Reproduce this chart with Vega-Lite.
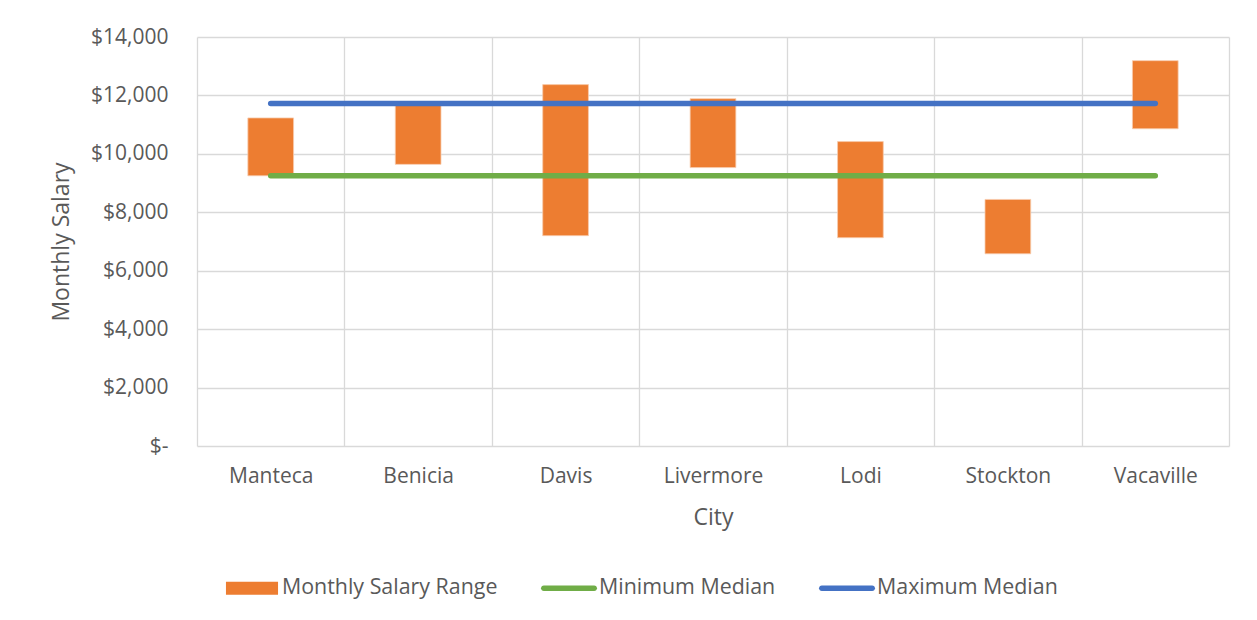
{
  "$schema": "https://vega.github.io/schema/vega-lite/v6.json",
  "width": 1032,
  "height": 409,
  "autosize": {"type": "none"},
  "padding": {"left": 197, "top": 37, "right": 28, "bottom": 174},
  "background": "white",
  "config": {
    "view": {"stroke": null},
    "font": "Open Sans",
    "axis": {
      "labelFont": "Open Sans",
      "titleFont": "Open Sans",
      "labelColor": "#595959",
      "titleColor": "#595959",
      "labelFontSize": 21,
      "titleFontSize": 23,
      "titleFontWeight": "normal",
      "gridColor": "#D9D9D9",
      "gridWidth": 1.3,
      "domain": false,
      "ticks": false
    },
    "legend": {
      "labelFont": "Open Sans",
      "labelColor": "#595959",
      "labelFontSize": 21.4,
      "labelLimit": 0
    }
  },
  "data": {
    "values": [
      {"City": "Manteca", "Low": 9250, "High": 11230, "Minimum Median": 9250, "Maximum Median": 11720},
      {"City": "Benicia", "Low": 9640, "High": 11720, "Minimum Median": 9250, "Maximum Median": 11720},
      {"City": "Davis", "Low": 7200, "High": 12370, "Minimum Median": 9250, "Maximum Median": 11720},
      {"City": "Livermore", "Low": 9530, "High": 11890, "Minimum Median": 9250, "Maximum Median": 11720},
      {"City": "Lodi", "Low": 7130, "High": 10420, "Minimum Median": 9250, "Maximum Median": 11720},
      {"City": "Stockton", "Low": 6580, "High": 8440, "Minimum Median": 9250, "Maximum Median": 11720},
      {"City": "Vacaville", "Low": 10860, "High": 13190, "Minimum Median": 9250, "Maximum Median": 11720}
    ]
  },
  "encoding": {
    "x": {
      "field": "City",
      "type": "nominal",
      "sort": null,
      "scale": {"type": "band", "paddingInner": 0, "paddingOuter": 0},
      "axis": {
        "title": "City",
        "labelAngle": 0,
        "grid": true,
        "tickBand": "extent",
        "labelPadding": 19,
        "titlePadding": 20
      }
    }
  },
  "layer": [
    {
      "mark": {"type": "bar", "width": {"band": 0.31}, "stroke": "#F8CBAD", "strokeWidth": 0.8},
      "encoding": {
        "y": {
          "field": "High",
          "type": "quantitative",
          "scale": {"domain": [0, 14000], "nice": false, "zero": true},
          "axis": {
            "title": "Monthly Salary",
            "values": [0, 2000, 4000, 6000, 8000, 10000, 12000, 14000],
            "labelExpr": "datum.value == 0 ? '$-' : '$' + format(datum.value, ',')",
            "labelPadding": 29,
            "titlePadding": 17
          }
        },
        "y2": {"field": "Low"},
        "color": {
          "datum": "Monthly Salary Range",
          "type": "nominal",
          "scale": {
            "domain": ["Monthly Salary Range", "Minimum Median", "Maximum Median"],
            "range": ["#ED7D31", "#70AD47", "#4472C4"]
          },
          "legend": {
            "title": null,
            "orient": "none",
            "direction": "horizontal",
            "legendX": 27,
            "legendY": 523,
            "padding": 0,
            "columnPadding": 43,
            "labelOffset": 2,
            "labelLimit": 0,
            "symbolSize": 3136,
            "symbolStrokeWidth": 0,
            "encode": {
              "symbols": {
                "update": {
                  "shape": {"signal": "datum.value === 'Monthly Salary Range' ? 'M-0.93,-0.23H0.93V0.23H-0.93Z' : 'M-0.9,-0.1H0.9A0.1,0.1 0 0 1 0.9,0.1H-0.9A0.1,0.1 0 0 1 -0.9,-0.1Z'"},
                  "fill": {"signal": "datum.value === 'Monthly Salary Range' ? '#ED7D31' : (datum.value === 'Minimum Median' ? '#70AD47' : '#4472C4')"},
                  "stroke": {"value": "transparent"},
                  "opacity": {"value": 1}
                }
              }
            }
          }
        }
      }
    },
    {
      "transform": [{"fold": ["Minimum Median", "Maximum Median"], "as": ["series", "value"]}],
      "mark": {"type": "line", "strokeWidth": 5.5, "strokeCap": "round"},
      "encoding": {
        "x": {"field": "City", "type": "nominal", "sort": null, "bandPosition": 0.5},
        "y": {"field": "value", "type": "quantitative"},
        "color": {
          "field": "series",
          "type": "nominal",
          "legend": {
            "title": null,
            "orient": "none",
            "direction": "horizontal",
            "legendX": 27,
            "legendY": 523,
            "padding": 0,
            "columnPadding": 43,
            "labelOffset": 2,
            "labelLimit": 0,
            "symbolSize": 3136,
            "symbolStrokeWidth": 0,
            "encode": {
              "symbols": {
                "update": {
                  "shape": {"signal": "datum.value === 'Monthly Salary Range' ? 'M-0.93,-0.23H0.93V0.23H-0.93Z' : 'M-0.9,-0.1H0.9A0.1,0.1 0 0 1 0.9,0.1H-0.9A0.1,0.1 0 0 1 -0.9,-0.1Z'"},
                  "fill": {"signal": "datum.value === 'Monthly Salary Range' ? '#ED7D31' : (datum.value === 'Minimum Median' ? '#70AD47' : '#4472C4')"},
                  "stroke": {"value": "transparent"},
                  "opacity": {"value": 1}
                }
              }
            }
          }
        },
        "detail": {"field": "series"}
      }
    }
  ]
}
